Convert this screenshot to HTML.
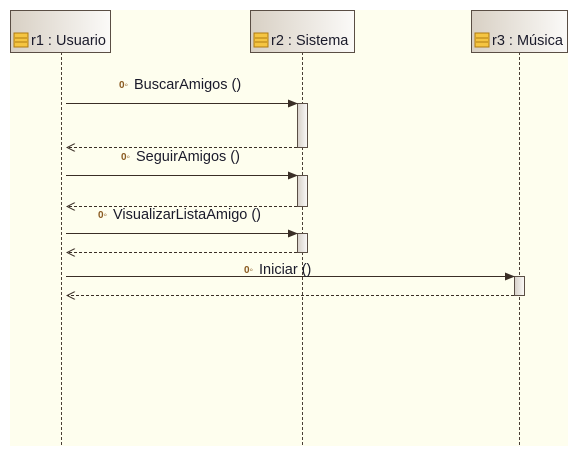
<!DOCTYPE html>
<html><head><meta charset="utf-8"><style>
body{margin:0;background:#fff;width:578px;height:456px;overflow:hidden}
svg text{font-family:"Liberation Sans",sans-serif;font-size:14.5px;fill:#1a1a2a}
</style></head><body>
<svg width="578" height="456" xmlns="http://www.w3.org/2000/svg">
<defs>
<linearGradient id="hg" x1="0" x2="1" y1="0" y2="0"><stop offset="0" stop-color="#d8d0c4"/><stop offset="1" stop-color="#fbfaf8"/></linearGradient>
<linearGradient id="ag" x1="0" x2="1"><stop offset="0" stop-color="#d6d0c8"/><stop offset="1" stop-color="#fbfaf8"/></linearGradient>
<marker id="f" markerWidth="10" markerHeight="8" refX="9" refY="4" orient="auto" markerUnits="userSpaceOnUse"><path d="M0,0 L10,4 L0,8 Z" fill="#3a2e26"/></marker>
<marker id="o" markerWidth="10" markerHeight="8" refX="9" refY="4" orient="auto" markerUnits="userSpaceOnUse"><path d="M1,0 L9,4 L1,8" fill="none" stroke="#3a2e26"/></marker>
<g id="ic"><rect x="0" y="0" width="14" height="14" fill="#f5c542" stroke="#b07a10"/><line x1="1" y1="5" x2="13" y2="5" stroke="#b07a10"/><line x1="1" y1="9" x2="13" y2="9" stroke="#b07a10"/></g>
</defs>
<rect x="10" y="10" width="558" height="436" fill="#fefeee"/>
<g stroke="#4a3f36" stroke-dasharray="3,2" stroke-width="1">
<line x1="61.5" y1="52" x2="61.5" y2="446"/><line x1="302.5" y1="52" x2="302.5" y2="446"/><line x1="519.5" y1="52" x2="519.5" y2="446"/>
</g>
<g stroke="#5a4e44" fill="url(#hg)">
<rect x="10.5" y="10.5" width="100" height="42"/><rect x="250.5" y="10.5" width="104" height="42"/><rect x="471.5" y="10.5" width="96" height="42"/>
</g>
<use href="#ic" x="14" y="33"/><use href="#ic" x="254" y="33"/><use href="#ic" x="475" y="33"/>
<text x="31" y="45">r1 : Usuario</text><text x="271" y="45">r2 : Sistema</text><text x="492" y="45">r3 : Música</text>
<g stroke="#5a4e44" fill="url(#ag)">
<rect x="297.5" y="103.5" width="10" height="44"/><rect x="297.5" y="175.5" width="10" height="31"/><rect x="297.5" y="233.5" width="10" height="19"/><rect x="514.5" y="276.5" width="10" height="19"/>
</g>
<g stroke="#3a2e26" fill="none">
<line x1="66" y1="103.5" x2="297" y2="103.5" marker-end="url(#f)"/>
<line x1="297" y1="147.5" x2="67" y2="147.5" stroke-dasharray="3,2" marker-end="url(#o)"/>
<line x1="66" y1="175.5" x2="297" y2="175.5" marker-end="url(#f)"/>
<line x1="297" y1="206.5" x2="67" y2="206.5" stroke-dasharray="3,2" marker-end="url(#o)"/>
<line x1="66" y1="233.5" x2="297" y2="233.5" marker-end="url(#f)"/>
<line x1="297" y1="252.5" x2="67" y2="252.5" stroke-dasharray="3,2" marker-end="url(#o)"/>
<line x1="66" y1="276.5" x2="514" y2="276.5" marker-end="url(#f)"/>
<line x1="514" y1="295.5" x2="67" y2="295.5" stroke-dasharray="3,2" marker-end="url(#o)"/>
</g>
<text x="119" y="88" style="font-size:10px;fill:#8a5a20;font-weight:bold">0◦</text>
<text x="121" y="160" style="font-size:10px;fill:#8a5a20;font-weight:bold">0◦</text>
<text x="98" y="218" style="font-size:10px;fill:#8a5a20;font-weight:bold">0◦</text>
<text x="244" y="273" style="font-size:10px;fill:#8a5a20;font-weight:bold">0◦</text>
<text x="134" y="89">BuscarAmigos ()</text>
<text x="136" y="161">SeguirAmigos ()</text>
<text x="113" y="219">VisualizarListaAmigo ()</text>
<text x="259" y="274">Iniciar ()</text>
</svg>
</body></html>
